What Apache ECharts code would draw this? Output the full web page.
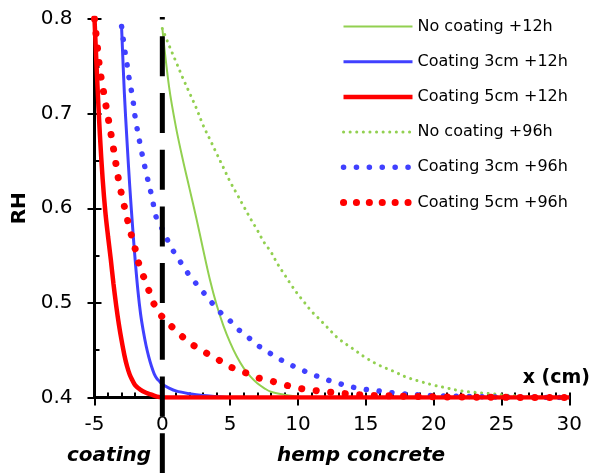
<!DOCTYPE html>
<html>
<head>
<meta charset="utf-8">
<script src="https://cdn.jsdelivr.net/npm/echarts@6/dist/echarts.min.js"></script>
<style>html,body{margin:0;padding:0;background:#fff}#c{width:592px;height:473px}</style>
</head>
<body>
<div id="c"></div>
<script>
// ---- data ----
const seriesNames = ['No coating +12h', 'Coating 3cm +12h', 'Coating 5cm +12h',
                     'No coating +96h', 'Coating 3cm +96h', 'Coating 5cm +96h'];

const xGreen12 = [0, 0.5, 1, 1.5, 2, 2.5, 3, 3.5, 4, 4.5, 5, 5.5, 6, 6.5, 7, 7.5, 8, 9, 10, 10.6];
const yGreen12 = [0.79, 0.728, 0.686, 0.652, 0.621, 0.59, 0.557, 0.525, 0.498, 0.476, 0.458, 0.443, 0.431, 0.422, 0.415, 0.41, 0.406, 0.403, 0.401, 0.4];

const xBlue12 = [-3, -2.8, -2.6, -2.4, -2.2, -2.0, -1.8, -1.6, -1.4, -1.2, -1.0, -0.8, -0.6, -0.4, -0.2, 0, 0.5, 1, 2, 3, 4, 5, 30];
const yBlue12 = [0.79, 0.722, 0.67, 0.623, 0.582, 0.545, 0.513, 0.488, 0.47, 0.455, 0.443, 0.433, 0.425, 0.42, 0.417, 0.414, 0.41, 0.407, 0.404, 0.402, 0.401, 0.4, 0.4];

const xRed12 = [-5, -4.8, -4.6, -4.4, -4.2, -4.0, -3.8, -3.6, -3.4, -3.2, -3.0, -2.8, -2.6, -2.4, -2.2, -2.0, -1.6, -1.2, -0.8, -0.4, 0, 30];
const yRed12 = [0.8, 0.735, 0.677, 0.631, 0.596, 0.57, 0.546, 0.52, 0.497, 0.477, 0.46, 0.445, 0.433, 0.424, 0.418, 0.413, 0.408, 0.405, 0.403, 0.401, 0.4, 0.4];

const xGreen96 = [0, 0.5, 1, 1.5, 2, 2.5, 3, 3.5, 4, 4.5, 5, 5.5, 6, 6.5, 7, 7.5, 8, 8.5, 9, 9.5, 10, 10.5, 11, 11.5, 12, 12.5, 13, 14, 15, 16, 17, 18, 19, 20, 21, 22, 23, 24, 25, 26, 27, 28, 30];
const yGreen96 = [0.79, 0.772, 0.755, 0.738, 0.722, 0.706, 0.688, 0.673, 0.658, 0.643, 0.628, 0.615, 0.602, 0.589, 0.577, 0.564, 0.554, 0.541, 0.53, 0.519, 0.509, 0.5, 0.491, 0.484, 0.4765, 0.469, 0.462, 0.452, 0.442, 0.434, 0.428, 0.4215, 0.417, 0.413, 0.41, 0.407, 0.4055, 0.4043, 0.403, 0.4018, 0.401, 0.4005, 0.4];

const xBlue96 = [-3, -2.8, -2.6, -2.4, -2.2, -2.0, -1.6, -1.2, -0.8, -0.4, 0, 0.4, 0.8, 1.3, 1.8, 2.4, 3, 3.6, 4.2, 5, 5.6, 6.3, 7, 7.8, 8.6, 9.4, 10.3, 11.2, 12.1, 13, 14, 15, 16, 17, 18, 19, 20, 22, 24, 26, 28, 30];
const yBlue96 = [0.792, 0.77, 0.752, 0.733, 0.718, 0.696, 0.665, 0.638, 0.614, 0.588, 0.578, 0.566, 0.555, 0.544, 0.533, 0.522, 0.5115, 0.501, 0.491, 0.481, 0.472, 0.464, 0.4555, 0.448, 0.441, 0.435, 0.429, 0.4237, 0.419, 0.415, 0.411, 0.4085, 0.4068, 0.405, 0.4035, 0.4028, 0.402, 0.4012, 0.4007, 0.4003, 0.4001, 0.4];

const xRed96 = [-5, -4.8, -4.6, -4.4, -4.2, -4.0, -3.6, -3.2, -2.8, -2.4, -2.0, -1.6, -1.2, -0.8, -0.4, 0, 0.4, 1.2, 2, 3, 4, 5, 6, 7, 8, 9, 10, 11, 12, 13, 14, 15, 16, 18, 20, 22, 25, 27, 30];
const yRed96 = [0.8, 0.772, 0.746, 0.729, 0.712, 0.696, 0.663, 0.628, 0.602, 0.578, 0.557, 0.535, 0.522, 0.505, 0.493, 0.485, 0.479, 0.468, 0.458, 0.449, 0.441, 0.4325, 0.427, 0.421, 0.4175, 0.4135, 0.41, 0.4078, 0.4062, 0.4048, 0.4034, 0.4025, 0.402, 0.4013, 0.4008, 0.4005, 0.4002, 0.4, 0.4];

// coating / hemp-concrete interface (x = 0), drawn past the axis
const interfaceX = [0, 0];
const interfaceY = [0.32, 0.802];

const xMin = -5, xMax = 30, xStep = 5;
const yMin = 0.4, yMax = 0.8, yStep = 0.1;

// ---- chart ----
const zip = (xs, ys) => xs.map((x, i) => [x, ys[i]]);
const FONT = '"DejaVu Sans", sans-serif';
const GREEN = '#92D050', BLUE = '#4040FF', RED = '#FF0000';

const styles = {};
styles[seriesNames[0]] = { color: GREEN, width: 2 };
styles[seriesNames[1]] = { color: BLUE, width: 3 };
styles[seriesNames[2]] = { color: RED, width: 4.5 };
styles[seriesNames[3]] = { color: GREEN, width: 3, type: [0.1, 6.5], cap: 'round' };
styles[seriesNames[4]] = { color: BLUE, width: 5.5, type: [0.1, 12.8], cap: 'round' };
styles[seriesNames[5]] = { color: RED, width: 7, type: [0.1, 14.5], cap: 'round' };
const legendStyleOverride = {};
legendStyleOverride[seriesNames[5]] = { type: [0.1, 12.8] };

function lineSeries(name, xs, ys, z) {
  const st = styles[name];
  return {
    name, type: 'line', data: zip(xs, ys), symbol: 'none', showSymbol: false,
    smooth: 0.35, z, silent: true,
    itemStyle: { color: st.color },
    lineStyle: Object.assign({}, st)
  };
}

const chart = echarts.init(document.getElementById('c'), null, { renderer: 'canvas' });
const axisBase = { type: 'value', min: xMin, max: xMax, interval: xStep };
chart.setOption({
  animation: false,
  backgroundColor: '#fff',
  grid: { left: 94.5, right: 22.7, top: 19, bottom: 75.5, containLabel: false },
  xAxis: [
    Object.assign({}, axisBase, {
      position: 'bottom',
      axisLine: { onZero: false, lineStyle: { color: '#000', width: 3 } },
      axisTick: { show: true, inside: false, length: 8, lineStyle: { color: '#000', width: 2 } },
      axisLabel: { margin: 17, color: '#000', fontSize: 20, fontFamily: FONT },
      splitLine: { show: false }
    }),
    Object.assign({}, axisBase, {
      position: 'bottom',
      axisLine: { show: false, onZero: false },
      axisTick: { show: true, inside: true, length: 5, lineStyle: { color: '#000', width: 2 } },
      minorTick: { show: true, splitNumber: 5, length: 5, lineStyle: { color: '#000', width: 2 } },
      axisLabel: { show: false },
      splitLine: { show: false }
    })
  ],
  yAxis: [
    {
      type: 'value', min: yMin, max: yMax, interval: yStep, position: 'left',
      name: 'RH', nameLocation: 'middle', nameGap: 65, nameRotate: 90,
      nameTextStyle: { color: '#000', fontSize: 20, fontWeight: 'bold', fontFamily: FONT },
      axisLine: { show: true, onZero: false, lineStyle: { color: '#000', width: 3 } },
      axisTick: { show: true, inside: false, length: 7, lineStyle: { color: '#000', width: 2 } },
      axisLabel: { margin: 22, color: '#000', fontSize: 20, fontFamily: FONT, formatter: v => v.toFixed(1) },
      splitLine: { show: false }
    },
    {
      type: 'value', min: yMin, max: yMax, interval: yStep, position: 'left',
      axisLine: { show: false, onZero: false },
      axisTick: { show: true, inside: true, length: 7, lineStyle: { color: '#000', width: 2 } },
      minorTick: { show: true, splitNumber: 2, length: 5, lineStyle: { color: '#000', width: 2 } },
      axisLabel: { show: false },
      splitLine: { show: false }
    }
  ],
  legend: {
    data: seriesNames.map(n => ({ name: n, lineStyle: Object.assign({}, styles[n], legendStyleOverride[n] || {}), itemStyle: { opacity: 0 } })),
    orient: 'vertical', left: 340, top: 18.5, padding: 0,
    itemWidth: 69, itemHeight: 16, itemGap: 19.2,
    itemStyle: { opacity: 0 },
    textStyle: { color: '#000', fontSize: 16, fontFamily: FONT, lineHeight: 16 },
    selectedMode: false
  },
  graphic: [
    { type: 'text', style: { text: 'x (cm)', x: 590, y: 378, align: 'right', verticalAlign: 'middle', font: 'bold 19px ' + FONT, fill: '#000' } },
    { type: 'text', style: { text: 'coating', x: 67, y: 456, align: 'left', verticalAlign: 'middle', font: 'italic bold 20px ' + FONT, fill: '#000' } },
    { type: 'text', style: { text: 'hemp concrete', x: 277, y: 456, align: 'left', verticalAlign: 'middle', font: 'italic bold 20px ' + FONT, fill: '#000' } }
  ],
  series: [
    lineSeries(seriesNames[0], xGreen12, yGreen12, 3),
    lineSeries(seriesNames[1], xBlue12, yBlue12, 4),
    lineSeries(seriesNames[3], xGreen96, yGreen96, 5),
    lineSeries(seriesNames[4], xBlue96, yBlue96, 6),
    lineSeries(seriesNames[5], xRed96, yRed96, 7),
    lineSeries(seriesNames[2], xRed12, yRed12, 8),
    {
      name: 'interface', type: 'line', data: zip(interfaceX, interfaceY), symbol: 'none',
      clip: false, silent: true, z: 10,
      lineStyle: { color: '#000', width: 5, type: [40, 16.7] }
    }
  ]
});
</script>
</body>
</html>
